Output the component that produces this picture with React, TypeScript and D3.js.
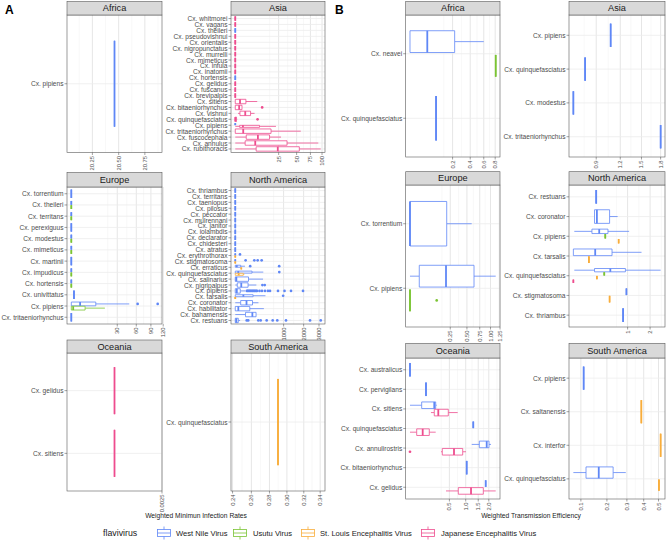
import React from "react";
import * as d3 from "d3";

const WIDTH = 668;
const HEIGHT = 542;
const FONT = "'Liberation Sans', Arial, Helvetica, sans-serif";

// virus indices
const WNV = 0;
const USU = 1;
const SLE = 2;
const JEV = 3;
const virusNames = [
  "West Nile Virus",
  "Usutu Virus",
  "St. Louis Encephalitis Virus",
  "Japanese Encephalitis Virus",
];
const virusColors = ["#5f87f6", "#7bc433", "#f8ad3b", "#ee4c8e"];

type Box = { sp: string; v: number; s: number[]; out?: number[] };
// single observation -> zero width box
const pt = (sp: string, v: number, val: number): Box => ({ sp, v, s: [val, val, val, val, val] });

// ---------------- A: weighted minimum infection rates ----------------
const aAfricaSpecies = ["Cx. pipiens"];
const aAfricaBoxes: Box[] = [pt("Cx. pipiens", WNV, 20.46)];
const aAfricaTicks = ["20.25", "20.50", "20.75"];

const aAsiaSpecies = [
  "Cx. whitmorei", "Cx. vagans", "Cx. theileri", "Cx. pseudovishnui", "Cx. orientalis",
  "Cx. nigropunctatus", "Cx. murrelli", "Cx. mimeticus", "Cx. infula", "Cx. inatomii",
  "Cx. hortensis", "Cx. gelidus", "Cx. fuscanus", "Cx. brevipalpis", "Cx. sitiens",
  "Cx. bitaeniorhynchus", "Cx. vishnui", "Cx. quinquefasciatus", "Cx. pipiens",
  "Cx. tritaeniorhynchus", "Cx. fuscocephala", "Cx. annulus", "Cx. rubithoracis",
];
const aAsiaBoxes: Box[] = [
  pt("Cx. whitmorei", JEV, 0),
  pt("Cx. vagans", JEV, 0),
  pt("Cx. theileri", WNV, 0),
  pt("Cx. pseudovishnui", JEV, 0),
  pt("Cx. orientalis", JEV, 0),
  pt("Cx. nigropunctatus", JEV, 0),
  pt("Cx. murrelli", JEV, 0),
  pt("Cx. mimeticus", JEV, 0),
  pt("Cx. infula", JEV, 0),
  pt("Cx. inatomii", JEV, 0),
  pt("Cx. hortensis", WNV, 0),
  pt("Cx. gelidus", JEV, 0),
  pt("Cx. fuscanus", JEV, 0),
  pt("Cx. brevipalpis", JEV, 0),
  { sp: "Cx. sitiens", v: JEV, s: [0, 0, 0.3, 1.5, 6.4] },
  { sp: "Cx. bitaeniorhynchus", v: JEV, s: [0, 0, 0.2, 0.6, 0.6], out: [9.6] },
  { sp: "Cx. vishnui", v: JEV, s: [0.1, 0.29, 1.32, 3.1, 4.95] },
  { sp: "Cx. quinquefasciatus", v: JEV, s: [0, 0, 0, 0.02, 0.05], out: [6.6] },
  pt("Cx. pipiens", WNV, 0),
  { sp: "Cx. pipiens", v: JEV, s: [0, 0.25, 0.78, 7.8, 22] },
  { sp: "Cx. tritaeniorhynchus", v: JEV, s: [0, 0, 0.84, 17, 57] },
  { sp: "Cx. fuscocephala", v: JEV, s: [0, 1.6, 6.8, 15.6, 27.8] },
  { sp: "Cx. annulus", v: JEV, s: [0, 1.3, 5.3, 35.6, 91.5] },
  { sp: "Cx. rubithoracis", v: JEV, s: [0, 5.8, 24, 54.5, 97] },
];
const aAsiaTicks = ["25", "50", "75", "100"];

const aEuropeSpecies = [
  "Cx. torrentium", "Cx. theileri", "Cx. territans", "Cx. perexiguus", "Cx. modestus",
  "Cx. mimeticus", "Cx. martinii", "Cx. impudicus", "Cx. hortensis", "Cx. univittatus",
  "Cx. pipiens", "Cx. tritaeniorhynchus",
];
const aEuropeBoxes: Box[] = [
  pt("Cx. torrentium", WNV, 0),
  pt("Cx. theileri", WNV, 0), pt("Cx. theileri", USU, 0),
  pt("Cx. territans", WNV, 0), pt("Cx. territans", USU, 0),
  pt("Cx. perexiguus", WNV, 0),
  pt("Cx. modestus", WNV, 0), pt("Cx. modestus", USU, 0),
  pt("Cx. mimeticus", WNV, 0), pt("Cx. mimeticus", USU, 0),
  pt("Cx. martinii", WNV, 0),
  pt("Cx. impudicus", WNV, 0), pt("Cx. impudicus", USU, 0),
  pt("Cx. hortensis", WNV, 0), pt("Cx. hortensis", USU, 0),
  pt("Cx. univittatus", WNV, 0.1),
  { sp: "Cx. pipiens", v: WNV, s: [0, 0, 1.1, 8.5, 47.7], out: [62.5, 106] },
  { sp: "Cx. pipiens", v: USU, s: [0, 0, 0.05, 2.7, 16] },
  pt("Cx. tritaeniorhynchus", WNV, 0),
];
const aEuropeTicks = ["30", "60", "90", "120"];

const aNorthAmSpecies = [
  "Cx. thriambus", "Cx. territans", "Cx. taeniopus", "Cx. pilosus", "Cx. peccator",
  "Cx. mulrennani", "Cx. janitor", "Cx. iolambdis", "Cx. declarator", "Cx. chidesteri",
  "Cx. atratus", "Cx. erythrothorax", "Cx. stigmatosoma", "Cx. erraticus",
  "Cx. quinquefasciatus", "Cx. salinarius", "Cx. nigripalpus", "Cx. pipiens", "Cx. tarsalis",
  "Cx. coronator", "Cx. habilitator", "Cx. bahamensis", "Cx. restuans",
];
const aNorthAmBoxes: Box[] = [
  pt("Cx. thriambus", WNV, 0),
  pt("Cx. territans", WNV, 0),
  pt("Cx. taeniopus", WNV, 0),
  pt("Cx. pilosus", WNV, 0),
  pt("Cx. peccator", WNV, 0),
  pt("Cx. mulrennani", WNV, 0),
  pt("Cx. janitor", WNV, 0),
  pt("Cx. iolambdis", WNV, 0),
  pt("Cx. declarator", WNV, 0),
  pt("Cx. chidesteri", WNV, 0),
  pt("Cx. atratus", WNV, 0),
  { sp: "Cx. erythrothorax", v: WNV, s: [0, 0, 0, 0, 0], out: [9.5] },
  pt("Cx. erythrothorax", SLE, 0),
  { sp: "Cx. stigmatosoma", v: WNV, s: [0, 0, 0, 0, 0], out: [46, 155, 215, 298] },
  pt("Cx. stigmatosoma", SLE, 0),
  { sp: "Cx. erraticus", v: WNV, s: [0, 0, 1, 12.5, 40], out: [95, 825] },
  pt("Cx. erraticus", SLE, 15.4),
  { sp: "Cx. quinquefasciatus", v: WNV, s: [0, 0, 3.9, 120, 336], out: [829] },
  { sp: "Cx. quinquefasciatus", v: SLE, s: [0, 0, 5, 27.4, 35] },
  { sp: "Cx. salinarius", v: WNV, s: [0, 0, 0.5, 75, 330] },
  { sp: "Cx. nigripalpus", v: WNV, s: [0, 1.7, 15.4, 70, 190], out: [315, 372] },
  {
    sp: "Cx. pipiens", v: WNV, s: [0, 0, 1, 10.7, 43],
    out: [58, 68, 80, 92, 105, 120, 134, 150, 166, 185, 202, 251, 305, 378, 457, 516, 781, 1037, 1329, 1963],
  },
  { sp: "Cx. tarsalis", v: WNV, s: [0, 0, 28, 136, 390], out: [980] },
  pt("Cx. tarsalis", SLE, 0),
  { sp: "Cx. coronator", v: WNV, s: [0, 12.5, 54, 127, 230] },
  { sp: "Cx. habilitator", v: WNV, s: [0, 0, 4, 90, 350] },
  { sp: "Cx. bahamensis", v: WNV, s: [0, 45, 125, 185, 185] },
  {
    sp: "Cx. restuans", v: WNV, s: [0, 0, 0.5, 3.9, 10],
    out: [56, 72, 227, 276, 422, 599, 755, 1101, 2390, 3124],
  },
];
const aNorthAmTicks = ["1000", "2000", "3000"];

const aOceaniaSpecies = ["Cx. gelidus", "Cx. sitiens"];
const aOceaniaBoxes: Box[] = [pt("Cx. gelidus", JEV, 0), pt("Cx. sitiens", JEV, 0)];
const aOceaniaTicks = ["0.0025"];

const aSouthAmSpecies = ["Cx. quinquefasciatus"];
const aSouthAmBoxes: Box[] = [pt("Cx. quinquefasciatus", SLE, 0.2897)];
const aSouthAmTicks = ["0.24", "0.26", "0.28", "0.30", "0.32", "0.34"];

// ---------------- B: weighted transmission efficiency ----------------
const bAfricaSpecies = ["Cx. neavei", "Cx. quinquefasciatus"];
const bAfricaBoxes: Box[] = [
  { sp: "Cx. neavei", v: WNV, s: [0, 0, 0.033, 0.22, 0.6] },
  pt("Cx. neavei", USU, 0.81),
  pt("Cx. quinquefasciatus", WNV, 0.075),
];
const bAfricaTicks = ["0.2", "0.4", "0.6", "0.8"];

const bAsiaSpecies = ["Cx. pipiens", "Cx. quinquefasciatus", "Cx. modestus", "Cx. tritaeniorhynchus"];
const bAsiaBoxes: Box[] = [
  pt("Cx. pipiens", WNV, 1.075),
  pt("Cx. quinquefasciatus", WNV, 0.776),
  pt("Cx. modestus", WNV, 0.655),
  pt("Cx. tritaeniorhynchus", WNV, 1.8),
];
const bAsiaTicks = ["0.9", "1.2", "1.5", "1.8"];

const bEuropeSpecies = ["Cx. torrentium", "Cx. pipiens"];
const bEuropeBoxes: Box[] = [
  { sp: "Cx. torrentium", v: WNV, s: [0, 0, 0, 0.208, 0.587] },
  { sp: "Cx. pipiens", v: WNV, s: [0, 0.0133, 0.2, 0.632, 1.133] },
  { sp: "Cx. pipiens", v: USU, s: [0, 0, 0, 0, 0], out: [0.11] },
];
const bEuropeTicks = ["0.25", "0.50", "0.75", "1.00", "1.25"];

const bNorthAmSpecies = [
  "Cx. restuans", "Cx. coronator", "Cx. pipiens", "Cx. tarsalis",
  "Cx. quinquefasciatus", "Cx. stigmatosoma", "Cx. thriambus",
];
const bNorthAmBoxes: Box[] = [
  pt("Cx. restuans", WNV, 0.177),
  { sp: "Cx. coronator", v: WNV, s: [0.152, 0.152, 0.188, 0.446, 0.666] },
  { sp: "Cx. pipiens", v: WNV, s: [0.0003, 0.117, 0.227, 0.407, 1.056] },
  pt("Cx. pipiens", USU, 0.346),
  pt("Cx. pipiens", SLE, 0.697),
  { sp: "Cx. tarsalis", v: WNV, s: [0, 0, 0.162, 0.508, 1.578] },
  pt("Cx. tarsalis", SLE, 0.082),
  { sp: "Cx. quinquefasciatus", v: WNV, s: [0.0003, 0.152, 0.464, 0.92, 2.587] },
  pt("Cx. quinquefasciatus", USU, 0.324),
  pt("Cx. quinquefasciatus", SLE, 0.188),
  pt("Cx. quinquefasciatus", JEV, 0),
  pt("Cx. stigmatosoma", WNV, 0.956),
  pt("Cx. stigmatosoma", SLE, 0.446),
  pt("Cx. thriambus", WNV, 0.84),
];
const bNorthAmTicks = ["1", "2"];

const bOceaniaSpecies = [
  "Cx. australicus", "Cx. pervigilans", "Cx. sitiens", "Cx. quinquefasciatus",
  "Cx. annulirostris", "Cx. bitaeniorhynchus", "Cx. gelidus",
];
const bOceaniaBoxes: Box[] = [
  pt("Cx. australicus", WNV, 0),
  pt("Cx. pervigilans", WNV, 0.0825),
  { sp: "Cx. sitiens", v: WNV, s: [0, 0.044, 0.19, 0.213, 0.23] },
  { sp: "Cx. sitiens", v: JEV, s: [0.142, 0.19, 0.258, 0.473, 0.733] },
  pt("Cx. quinquefasciatus", WNV, 1.29),
  { sp: "Cx. quinquefasciatus", v: JEV, s: [0, 0.0145, 0.052, 0.12, 0.213] },
  { sp: "Cx. annulirostris", v: WNV, s: [1.227, 1.548, 1.896, 2.01, 2.115] },
  { sp: "Cx. annulirostris", v: JEV, s: [0.31, 0.336, 0.624, 0.895, 1.01], out: [0] },
  pt("Cx. bitaeniorhynchus", WNV, 1.036),
  pt("Cx. gelidus", WNV, 1.846),
  { sp: "Cx. gelidus", v: JEV, s: [0.418, 0.752, 1.2, 1.732, 2.367] },
];
const bOceaniaTicks = ["0.5", "1.0", "1.5", "2.0"];

const bSouthAmSpecies = ["Cx. pipiens", "Cx. saltanensis", "Cx. interfor", "Cx. quinquefasciatus"];
const bSouthAmBoxes: Box[] = [
  pt("Cx. pipiens", WNV, 0.109),
  pt("Cx. saltanensis", SLE, 0.385),
  pt("Cx. interfor", SLE, 0.515),
  { sp: "Cx. quinquefasciatus", v: WNV, s: [0.0775, 0.117, 0.165, 0.229, 0.294] },
  pt("Cx. quinquefasciatus", SLE, 0.503),
];
const bSouthAmTicks = ["0.1", "0.2", "0.3", "0.4", "0.5"];

// ---------------- layout ----------------
type PanelSpec = {
  title: string;
  species: string[];
  boxes: Box[];
  ticks: string[];
  x0: number;
  x1: number;
  head: number;
  top: number;
  bottom: number;
  singlePad: number;
};

const panels: PanelSpec[] = [
  { title: "Africa", species: aAfricaSpecies, boxes: aAfricaBoxes, ticks: aAfricaTicks, x0: 67, x1: 162, head: 1.5, top: 15, bottom: 152.5, singlePad: 0 },
  { title: "Asia", species: aAsiaSpecies, boxes: aAsiaBoxes, ticks: aAsiaTicks, x0: 231, x1: 325, head: 1.5, top: 15, bottom: 152.5, singlePad: 0 },
  { title: "Europe", species: aEuropeSpecies, boxes: aEuropeBoxes, ticks: aEuropeTicks, x0: 67, x1: 162, head: 172.5, top: 187, bottom: 324, singlePad: 0 },
  { title: "North America", species: aNorthAmSpecies, boxes: aNorthAmBoxes, ticks: aNorthAmTicks, x0: 231, x1: 325, head: 172.5, top: 187, bottom: 324, singlePad: 0 },
  { title: "Oceania", species: aOceaniaSpecies, boxes: aOceaniaBoxes, ticks: aOceaniaTicks, x0: 67, x1: 162, head: 340, top: 353, bottom: 491, singlePad: 0 },
  { title: "South America", species: aSouthAmSpecies, boxes: aSouthAmBoxes, ticks: aSouthAmTicks, x0: 231, x1: 325, head: 340, top: 353, bottom: 491, singlePad: 0 },
  { title: "Africa", species: bAfricaSpecies, boxes: bAfricaBoxes, ticks: bAfricaTicks, x0: 405.7, x1: 500, head: 1.5, top: 15, bottom: 157, singlePad: 0.08 },
  { title: "Asia", species: bAsiaSpecies, boxes: bAsiaBoxes, ticks: bAsiaTicks, x0: 569, x1: 665, head: 1.5, top: 15, bottom: 157, singlePad: 0.08 },
  { title: "Europe", species: bEuropeSpecies, boxes: bEuropeBoxes, ticks: bEuropeTicks, x0: 405.7, x1: 500, head: 171.7, top: 185, bottom: 327, singlePad: 0.08 },
  { title: "North America", species: bNorthAmSpecies, boxes: bNorthAmBoxes, ticks: bNorthAmTicks, x0: 569, x1: 665, head: 171.7, top: 185, bottom: 327, singlePad: 0.08 },
  { title: "Oceania", species: bOceaniaSpecies, boxes: bOceaniaBoxes, ticks: bOceaniaTicks, x0: 405.7, x1: 500, head: 343.3, top: 358, bottom: 499, singlePad: 0.08 },
  { title: "South America", species: bSouthAmSpecies, boxes: bSouthAmBoxes, ticks: bSouthAmTicks, x0: 569, x1: 665, head: 343.3, top: 358, bottom: 499, singlePad: 0.08 },
];

// ggplot style minor breaks, in sqrt space
function minorBreaks(major: number[], lo: number, hi: number) {
  const b = major.filter((v) => v >= lo && v <= hi);
  if (b.length < 2) return [];
  const bd = b[1] - b[0];
  if (lo < b[0]) b.unshift(b[0] - bd);
  if (hi > b[b.length - 1]) b.push(b[b.length - 1] + bd);
  const out: number[] = [];
  for (let i = 0; i < b.length - 1; i++) out.push((b[i] + b[i + 1]) / 2);
  return out.filter((v) => v >= lo && v <= hi);
}

function Panel({ p }: { p: PanelSpec }) {
  const vals = p.boxes.flatMap((b) => [...b.s, ...(b.out || [])]).map(Math.sqrt);
  let lo = d3.min(vals) as number;
  let hi = d3.max(vals) as number;
  if (hi - lo < 1e-9) {
    lo -= 0.05;
    hi += 0.05;
  } else {
    const e = (hi - lo) * 0.05;
    lo -= e;
    hi += e;
  }
  const x = d3.scaleLinear().domain([lo, hi]).range([p.x0, p.x1]);
  const sx = (v: number) => x(Math.sqrt(v));
  const y = d3.scalePoint<string>().domain(p.species).range([p.top, p.bottom]).padding(0.6);
  const step = y.step();
  const major = p.ticks.map((t) => Math.sqrt(+t));
  const minor = minorBreaks(major, lo, hi);

  const groups = d3.group(p.boxes, (b) => b.sp);
  const marks: React.ReactNode[] = [];
  groups.forEach((list, sp) => {
    const sorted = [...list].sort((a, b) => a.v - b.v);
    const n = sorted.length;
    const total = step * 0.75;
    const slot = total / n;
    const h = slot * (1 - (n > 1 ? 0.1 : p.singlePad));
    sorted.forEach((b, i) => {
      const cy = (y(sp) as number) - total / 2 + slot * (i + 0.5);
      const col = virusColors[b.v];
      const [mn, q1, md, q3, mx] = b.s.map(sx);
      const key = sp + b.v;
      marks.push(
        <g key={key}>
          <line x1={mn} x2={q1} y1={cy} y2={cy} stroke={col} strokeWidth={0.8} />
          <line x1={q3} x2={mx} y1={cy} y2={cy} stroke={col} strokeWidth={0.8} />
          <path
            d={`M${q1},${cy - h / 2}H${q3}V${cy + h / 2}H${q1}Z`}
            fill="white"
            stroke={col}
            strokeWidth={0.8}
          />
          <line x1={md} x2={md} y1={cy - h / 2} y2={cy + h / 2} stroke={col} strokeWidth={1.8} />
          {(b.out || []).map((o, j) => (
            <circle key={j} cx={sx(o)} cy={cy} r={1.35} fill={col} />
          ))}
        </g>
      );
    });
  });

  return (
    <g>
      <rect x={p.x0} y={p.top} width={p.x1 - p.x0} height={p.bottom - p.top} fill="white" />
      {minor.map((m, i) => (
        <line key={"mn" + i} x1={x(m)} x2={x(m)} y1={p.top} y2={p.bottom} stroke="#f0f0f0" strokeWidth={0.5} />
      ))}
      {major.map((m, i) => (
        <line key={"mj" + i} x1={x(m)} x2={x(m)} y1={p.top} y2={p.bottom} stroke="#e6e6e6" strokeWidth={1} />
      ))}
      {p.species.map((s) => (
        <line key={"gy" + s} x1={p.x0} x2={p.x1} y1={y(s)} y2={y(s)} stroke="#ececec" strokeWidth={0.8} />
      ))}
      {marks}
      <rect
        x={p.x0}
        y={p.top}
        width={p.x1 - p.x0}
        height={p.bottom - p.top}
        fill="none"
        stroke="#5a5a5a"
        strokeWidth={0.6}
      />
      <rect
        x={p.x0}
        y={p.head}
        width={p.x1 - p.x0}
        height={p.top - p.head}
        fill="#d9d9d9"
        stroke="#5a5a5a"
        strokeWidth={0.6}
      />
      <text
        x={(p.x0 + p.x1) / 2}
        y={(p.head + p.top) / 2}
        textAnchor="middle"
        dominantBaseline="central"
        fontSize={9.2}
        fill="#1a1a1a"
      >
        {p.title}
      </text>
      {p.species.map((s) => (
        <g key={"yl" + s}>
          <line x1={p.x0 - 2.5} x2={p.x0} y1={y(s)} y2={y(s)} stroke="#444" strokeWidth={0.5} />
          <text
            x={p.x0 - 3.5}
            y={y(s)}
            textAnchor="end"
            dominantBaseline="central"
            fontSize={6.6}
            fill="#4d4d4d"
          >
            {s}
          </text>
        </g>
      ))}
      {p.ticks.map((t, i) => (
        <g key={"xt" + t}>
          <line x1={x(major[i])} x2={x(major[i])} y1={p.bottom} y2={p.bottom + 2.5} stroke="#444" strokeWidth={0.5} />
          <text
            transform={`translate(${x(major[i])},${p.bottom + 3.5}) rotate(-90)`}
            textAnchor="end"
            dominantBaseline="central"
            fontSize={5.8}
            fill="#4d4d4d"
          >
            {t}
          </text>
        </g>
      ))}
    </g>
  );
}

function LegendKey({ x, col }: { x: number; col: string }) {
  const cx = x + 7;
  return (
    <g>
      <line x1={cx} x2={cx} y1={526.5} y2={539.5} stroke={col} strokeWidth={0.8} />
      <rect x={x + 0.5} y={529.5} width={13} height={7} fill="white" stroke={col} strokeWidth={0.8} />
      <line x1={x + 0.5} x2={x + 13.5} y1={533} y2={533} stroke={col} strokeWidth={0.8} />
    </g>
  );
}

const legendKeyX = [157, 233, 301, 421];
const legendTextX = [176, 253, 320, 441];

export default function App() {
  return (
    <div style={{ position: "absolute", left: 0, top: 0 }}>
      <svg width={WIDTH} height={HEIGHT} style={{ display: "block", fontFamily: FONT }}>
        <rect width={WIDTH} height={HEIGHT} fill="white" />
        {panels.map((p, i) => (
          <Panel key={i} p={p} />
        ))}
        <text x={5} y={14} fontSize={12} fontWeight="bold" fill="#000">A</text>
        <text x={335} y={14} fontSize={12} fontWeight="bold" fill="#000">B</text>
        <text x={196} y={518} textAnchor="middle" fontSize={6.7} fill="#1a1a1a">
          Weighted Minimun Infection Rates
        </text>
        <text x={531} y={518} textAnchor="middle" fontSize={6.7} fill="#1a1a1a">
          Weighted Transmission Efficiency
        </text>
        <text x={103} y={536} fontSize={8.8} fill="#1a1a1a">flavivirus</text>
        {virusNames.map((v, i) => (
          <g key={v}>
            <LegendKey x={legendKeyX[i]} col={virusColors[i]} />
            <text x={legendTextX[i]} y={536} fontSize={7.6} fill="#1a1a1a">
              {v}
            </text>
          </g>
        ))}
      </svg>
    </div>
  );
}
